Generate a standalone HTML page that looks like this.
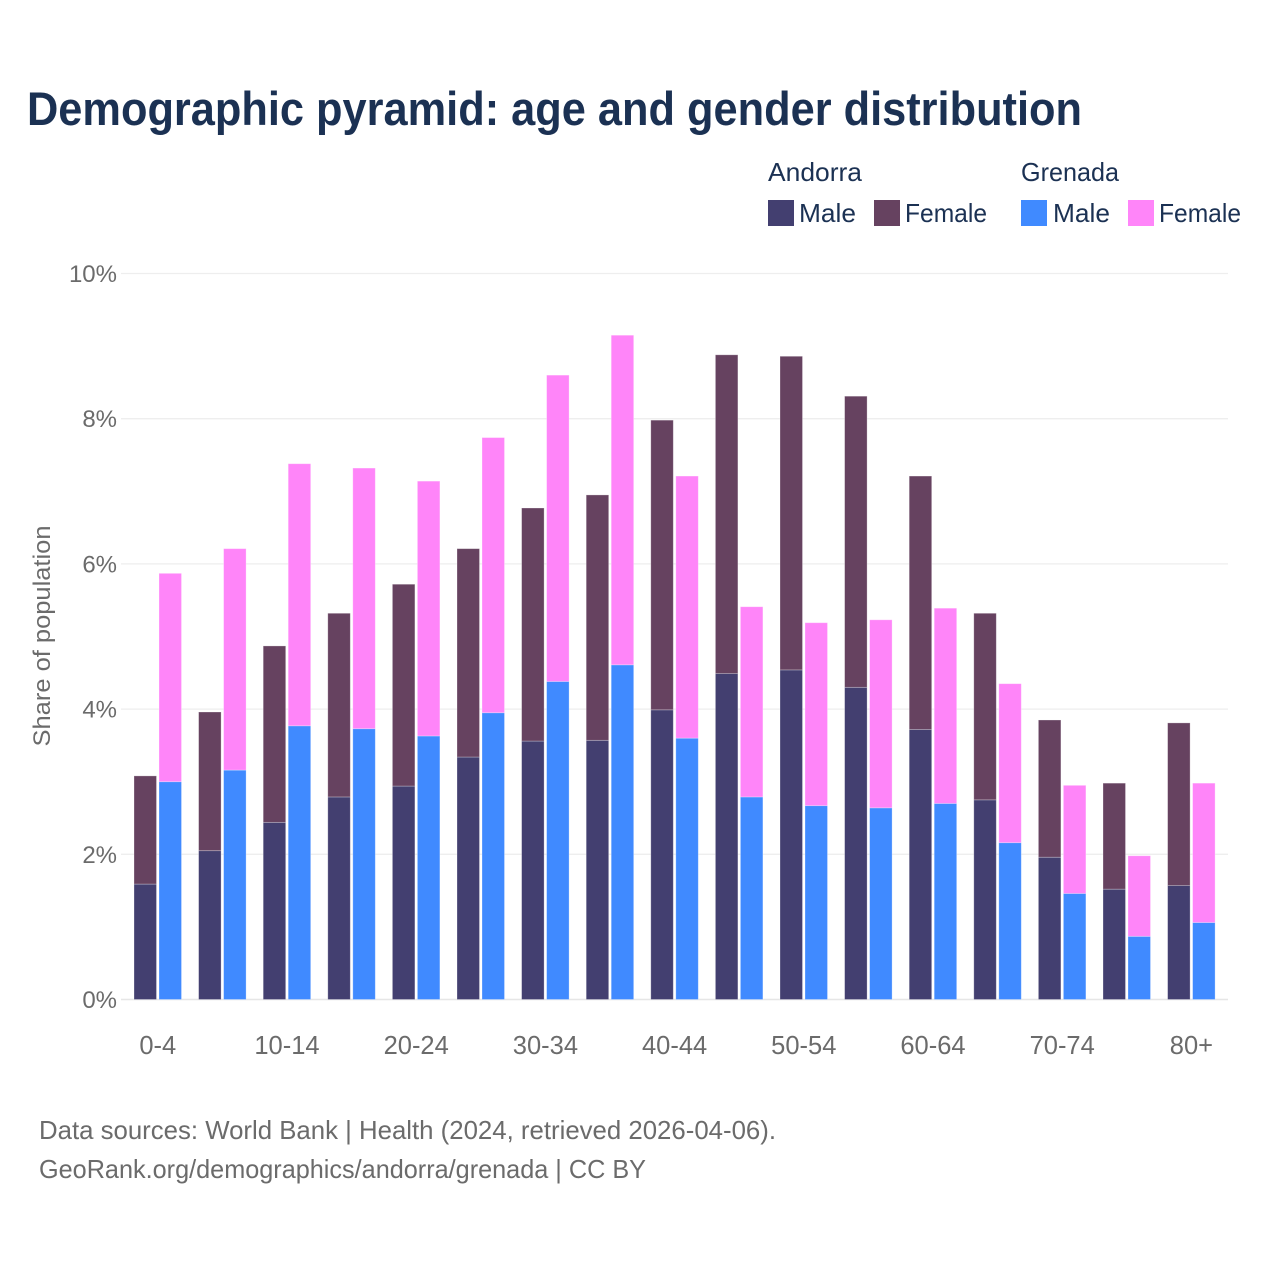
<!DOCTYPE html>
<html lang="en">
<head>
<meta charset="utf-8">
<title>Demographic pyramid: age and gender distribution</title>
<style>
html,body{margin:0;padding:0;background:#fff;}
svg{display:block;font-family:"Liberation Sans",Arial,sans-serif;}
.grey{fill:#6b6b6b;}
.navy{fill:#1b3153;}
</style>
</head>
<body>
<svg id="chart" xmlns="http://www.w3.org/2000/svg" width="1280" height="1280" viewBox="0 0 1280 1280">
  <rect x="0" y="0" width="1280" height="1280" fill="#ffffff"/>
  <text class="navy" x="27" y="125" font-size="47" font-weight="700" textLength="1055" lengthAdjust="spacingAndGlyphs">Demographic pyramid: age and gender distribution</text>

  <g>
    <text class="navy" x="768" y="181" font-size="26" textLength="94" lengthAdjust="spacingAndGlyphs">Andorra</text>
    <text class="navy" x="1021" y="181" font-size="26" textLength="98" lengthAdjust="spacingAndGlyphs">Grenada</text>
    <rect x="768" y="200" width="26" height="26" fill="#433f70"/>
    <text class="navy" x="799" y="222" font-size="26" textLength="57" lengthAdjust="spacingAndGlyphs">Male</text>
    <rect x="874" y="200" width="26" height="26" fill="#664260"/>
    <text class="navy" x="905" y="222" font-size="26" textLength="82" lengthAdjust="spacingAndGlyphs">Female</text>
    <rect x="1021" y="200" width="26" height="26" fill="#408aff"/>
    <text class="navy" x="1053" y="222" font-size="26" textLength="57" lengthAdjust="spacingAndGlyphs">Male</text>
    <rect x="1128" y="200" width="26" height="26" fill="#ff85f9"/>
    <text class="navy" x="1159" y="222" font-size="26" textLength="82" lengthAdjust="spacingAndGlyphs">Female</text>
  </g>

  <g id="grid"></g>
  <g id="bars"></g>
  <g id="yticks"></g>
  <g id="xticks"></g>

  <text class="grey" transform="translate(50,636) rotate(-90)" text-anchor="middle" font-size="24" textLength="221" lengthAdjust="spacingAndGlyphs">Share of population</text>

  <text class="grey" x="39" y="1139" font-size="26" textLength="737" lengthAdjust="spacingAndGlyphs">Data sources: World Bank | Health (2024, retrieved 2026-04-06).</text>
  <text class="grey" x="39" y="1178" font-size="26" textLength="607" lengthAdjust="spacingAndGlyphs">GeoRank.org/demographics/andorra/grenada | CC BY</text>
</svg>
<script>
const categories = ["0-4","5-9","10-14","15-19","20-24","25-29","30-34","35-39","40-44","45-49","50-54","55-59","60-64","65-69","70-74","75-79","80+"];
const xTickLabels = ["0-4","","10-14","","20-24","","30-34","","40-44","","50-54","","60-64","","70-74","","80+"];
const yTickValues = [0,2,4,6,8,10];
const andorraMale = [1.59,2.05,2.44,2.79,2.94,3.34,3.56,3.57,3.99,4.49,4.54,4.30,3.72,2.75,1.96,1.52,1.57];
const andorraFemale = [1.49,1.91,2.43,2.53,2.78,2.87,3.21,3.38,3.99,4.39,4.32,4.01,3.49,2.57,1.89,1.46,2.24];
const grenadaMale = [3.00,3.16,3.77,3.73,3.63,3.95,4.38,4.61,3.60,2.79,2.67,2.64,2.70,2.16,1.46,0.87,1.06];
const grenadaFemale = [2.87,3.05,3.61,3.59,3.51,3.79,4.22,4.54,3.61,2.62,2.52,2.59,2.69,2.19,1.49,1.11,1.92];

const NS = "http://www.w3.org/2000/svg";
const plotLeft = 121, plotRight = 1228;
const yZero = 999.5, pxPerUnit = 72.6;
const groupStart = 134, groupStep = 64.6;
const barWidth = 22.5, barOffset = 25;

function yScale(v) { return yZero - pxPerUnit * v; }
function xScale(i) { return groupStart + groupStep * i; }

const gridG = document.getElementById("grid");
const barsG = document.getElementById("bars");
const yG = document.getElementById("yticks");
const xG = document.getElementById("xticks");

yTickValues.forEach(function (v) {
  const line = document.createElementNS(NS, "line");
  
  
  line.setAttribute("x1", plotLeft);
  line.setAttribute("x2", plotRight);
  line.setAttribute("y1", yScale(v));
  line.setAttribute("y2", yScale(v));
  line.setAttribute("stroke", v === 0 ? "#e6e6e6" : "#eeeeee");
  line.setAttribute("stroke-width", v === 0 ? 1.6 : 1.3);
  gridG.appendChild(line);

  const t = document.createElementNS(NS, "text");
  
  
  t.setAttribute("x", 117);
  t.setAttribute("y", yScale(v) + 8.5);
  t.setAttribute("text-anchor", "end");
  t.setAttribute("font-size", "24");
  t.setAttribute("class", "grey");
  t.textContent = v + "%";
  yG.appendChild(t);
});

function drawBar(i, x, base, value, color, name) {
  const r = document.createElementNS(NS, "rect");
  
  
  r.setAttribute("x", x);
  r.setAttribute("y", yScale(base + value));
  r.setAttribute("width", barWidth);
  r.setAttribute("height", yScale(base) - yScale(base + value));
  r.setAttribute("fill", color);
  r.setAttribute("stroke", "#ffffff");
  r.setAttribute("stroke-opacity", "0.35");
  r.setAttribute("stroke-width", "0.8");
  barsG.appendChild(r);
}

categories.forEach(function (c, i) {
  const x = xScale(i);
  drawBar(i, x, 0, andorraMale[i], "#433f70", "bar-andorra-male-" + c);
  drawBar(i, x, andorraMale[i], andorraFemale[i], "#664260", "bar-andorra-female-" + c);
  drawBar(i, x + barOffset, 0, grenadaMale[i], "#408aff", "bar-grenada-male-" + c);
  drawBar(i, x + barOffset, grenadaMale[i], grenadaFemale[i], "#ff85f9", "bar-grenada-female-" + c);

  if (xTickLabels[i]) {
    const t = document.createElementNS(NS, "text");
    
    
    t.setAttribute("x", x + 23.8);
    t.setAttribute("y", 1054);
    t.setAttribute("text-anchor", "middle");
    t.setAttribute("font-size", "25.5");
    t.setAttribute("class", "grey");
    t.textContent = xTickLabels[i];
    xG.appendChild(t);
  }
});
</script>
</body>
</html>
